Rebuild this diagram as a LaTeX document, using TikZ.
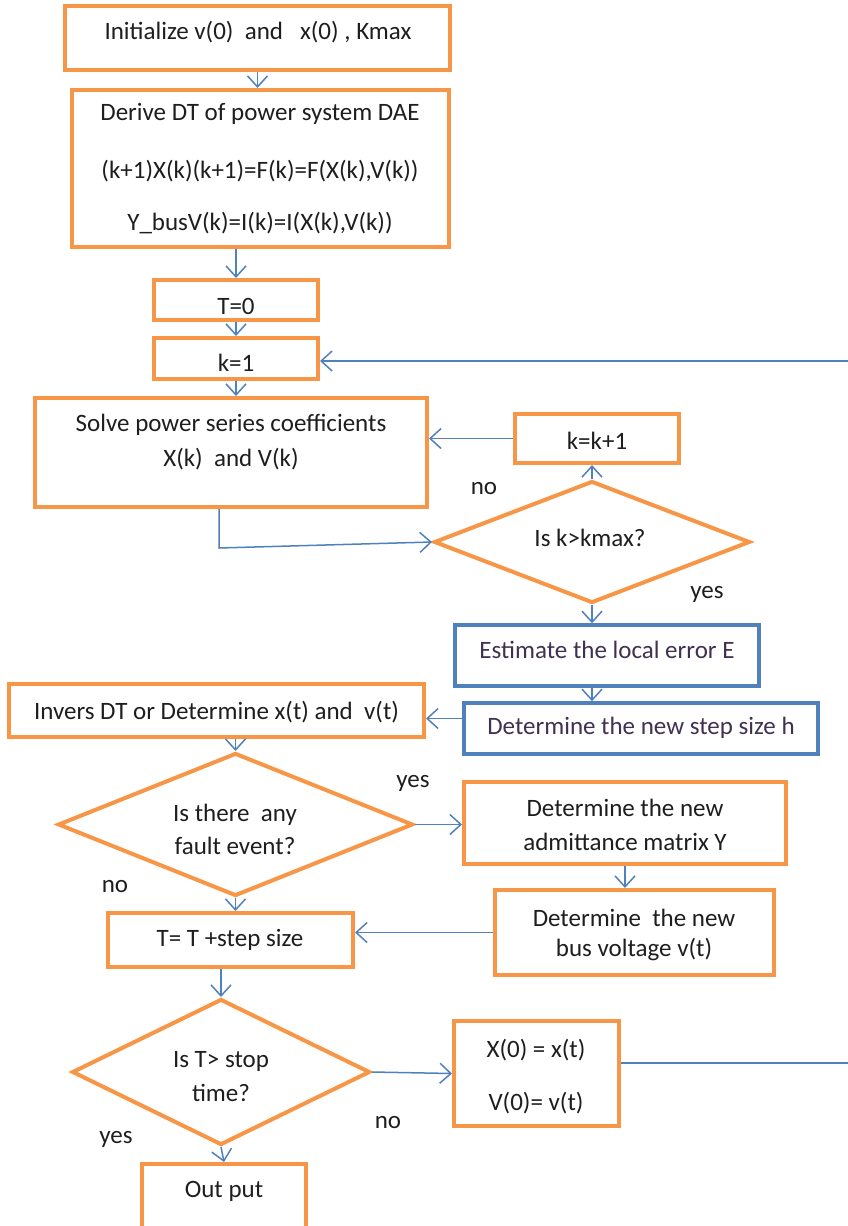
\documentclass[tikz,border=0pt]{standalone}
\usepackage{fontspec}
\setmainfont{Carlito}
\usetikzlibrary{arrows.meta,shapes.geometric}
\definecolor{boxorange}{RGB}{247,150,70}
\definecolor{boxblue}{RGB}{79,129,189}
\definecolor{linkblue}{RGB}{79,129,189}
\definecolor{ink}{RGB}{30,30,30}
\definecolor{inkpurple}{RGB}{64,49,81}
\tikzset{
  obox/.style={draw=boxorange,line width=4pt,rectangle,inner sep=0pt,fill=white},
  bbox/.style={draw=boxblue,line width=3.5pt,rectangle,inner sep=0pt,fill=white},
  odia/.style={draw=boxorange,line width=4pt,diamond,inner sep=0pt,fill=white},
  txt/.style={text=ink,font=\fontsize{25}{30}\selectfont,inner sep=0pt,align=center},
  ptxt/.style={text=inkpurple,font=\fontsize{25}{30}\selectfont,inner sep=0pt,align=center},
  link/.style={draw=linkblue,line width=1.5pt},
  arr/.style={link,-{Straight Barb[length=11pt,width=20pt,line width=1.5pt]}},
}
\begin{document}
\begin{tikzpicture}[x=1pt,y=-1pt]
\useasboundingbox (0,0) rectangle (848,1226);

% process boxes
\node[obox,minimum width=385,minimum height=64] (A) at (257.5,38) {};
\node[obox,minimum width=377,minimum height=157] (B) at (260.5,168.5) {};
\node[obox,minimum width=164,minimum height=40] (T0) at (236,300) {};
\node[obox,minimum width=164,minimum height=41] (K1) at (236,358.5) {};
\node[obox,minimum width=392,minimum height=109] (S) at (231,452.5) {};
\node[obox,minimum width=164,minimum height=49] (KK) at (597,438.5) {};
\node[odia,minimum width=316,minimum height=122] (D1) at (592,542) {};
\node[bbox,minimum width=304,minimum height=61] (E) at (607,655.5) {};
\node[bbox,minimum width=354,minimum height=51] (H) at (641,728.5) {};
\node[obox,minimum width=415,minimum height=53] (INV) at (216.5,710.5) {};
\node[odia,minimum width=355,minimum height=143] (D2) at (235.5,824.5) {};
\node[obox,minimum width=322,minimum height=82] (ADM) at (625,823) {};
\node[obox,minimum width=245,minimum height=54] (TS) at (230.5,940) {};
\node[obox,minimum width=279,minimum height=85] (BV) at (634.5,932.5) {};
\node[odia,minimum width=298,minimum height=146] (D3) at (221,1072) {};
\node[obox,minimum width=165,minimum height=105] (X0) at (536.5,1073.5) {};
\node[obox,minimum width=164,minimum height=64] (OUT) at (224,1196) {};

% texts
\node[txt] (tA) at (258,32) {Initialize v(0)\ \ and\ \ \ x(0) , Kmax};
\node[txt] (tB1) at (260,114) {Derive DT of power system DAE};
\node[txt] (tB2) at (260,171) {(k+1)X(k)(k+1)=F(k)=F(X(k),V(k))};
\node[txt] (tB3) at (260,223) {Y\_busV(k)=I(k)=I(X(k),V(k))};
\node[txt] (tT0) at (236,306) {T=0};
\node[txt] (tK1) at (236,363) {k=1};
\node[txt] (tS1) at (231,425) {Solve power series coefficients};
\node[txt] (tS2) at (231,459) {X(k)\ \ and V(k)};
\node[txt] (tKK) at (597,441) {k=k+1};
\node[txt] (tD1) at (590,538) {Is k>kmax?};
\node[ptxt] (tE) at (607,650) {Estimate the local error E};
\node[ptxt] (tH) at (641,728) {Determine the new step size h};
\node[txt] (tINV) at (216.5,712) {Invers DT or Determine x(t) and\ \ v(t)};
\node[txt] (tD2a) at (235,815) {Is there\ \ any};
\node[txt] (tD2b) at (235,846) {fault event?};
\node[txt] (tADM1) at (625,808) {Determine the new};
\node[txt] (tADM2) at (625,842) {admittance matrix Y};
\node[txt] (tTS) at (230,940) {T= T +step size};
\node[txt] (tBV1) at (634,918) {Determine\ \ the new};
\node[txt] (tBV2) at (634,949) {bus voltage v(t)};
\node[txt] (tD3a) at (221,1061) {Is T> stop};
\node[txt] (tD3b) at (221,1093) {time?};
\node[txt] (tX1) at (536,1050) {X(0) = x(t)};
\node[txt] (tX2) at (536,1103) {V(0)= v(t)};
\node[txt] (tOUT) at (224,1191) {Out put};

% branch labels
\node[txt] (no1) at (484,489) {no};
\node[txt] (yes1) at (707,594) {yes};
\node[txt] (yes2) at (413,783) {yes};
\node[txt] (no2) at (115,887) {no};
\node[txt] (no3) at (388,1123) {no};
\node[txt] (yes3) at (116,1139) {yes};

% helper points
\coordinate (sbend) at (219,548);
\coordinate (r1) at (848,1063);
\coordinate (r2) at (848,361);

% connectors
\draw[arr] (A.south) -- (A.south |- B.north);
\draw[arr] (T0.north |- B.south) -- (T0.north);
\draw[arr] (T0.south) -- (K1.north);
\draw[arr] (K1.south) -- (K1.south |- S.north);
\draw[arr] (r2) -- (r2 -| K1.east);
\draw[arr] (KK.west) -- (KK.west -| S.east);
\draw[arr] (D1.north) -- (D1.north |- KK.south);
\draw[arr] (S.south -| sbend) -- (sbend) -- (D1.west);
\draw[arr] (D1.south) -- (D1.south |- E.north);
\draw[arr] (D1.south |- E.south) -- (D1.south |- H.north);
\draw[arr] ([yshift=10pt]H.west) -- ([yshift=10pt]H.west -| INV.east);
\draw[arr] (D2.north |- INV.south) -- (D2.north);
\draw[arr] (D2.east) -- (D2.east -| ADM.west);
\draw[arr] (D2.south) -- (D2.south |- TS.north);
\draw[arr] (ADM.south) -- (ADM.south |- BV.north);
\draw[arr] (BV.west) -- (BV.west -| TS.east);
\draw[arr] (D3.north |- TS.south) -- (D3.north);
\draw[arr] (D3.east) -- (X0.west);
\draw[arr] (D3.south) -- (OUT.north);
\draw[link] (X0.east |- r1) -- (r1);
\end{tikzpicture}
\end{document}
